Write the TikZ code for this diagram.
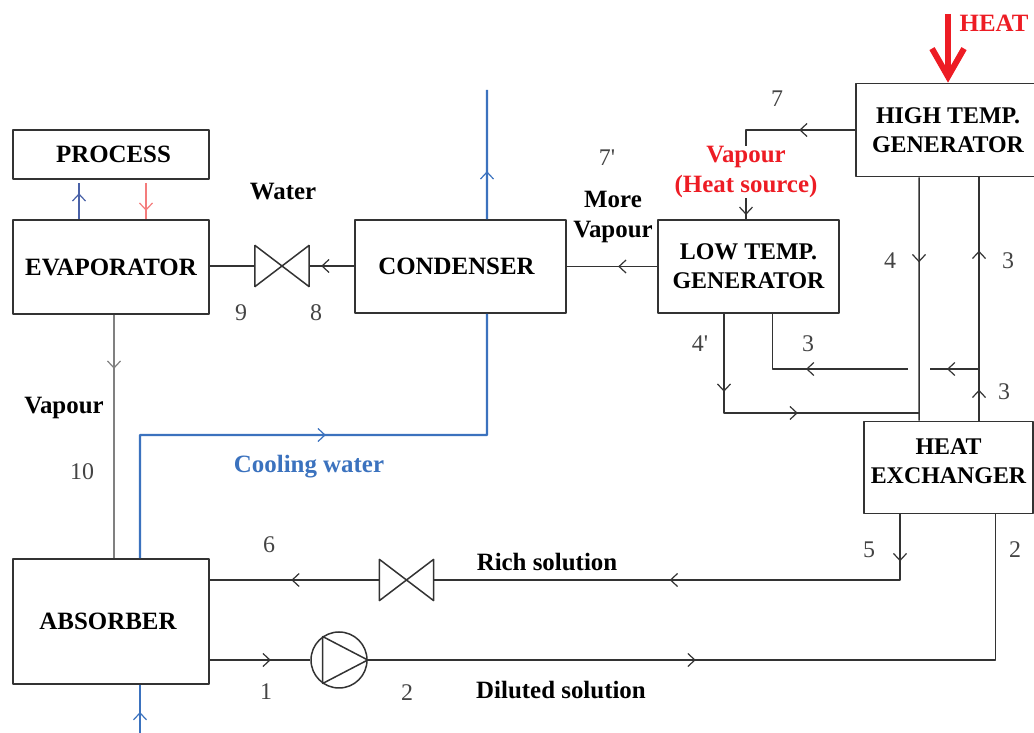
\documentclass[tikz,border=0pt]{standalone}
\usepackage{fontspec}
\setmainfont{Liberation Serif}
\usetikzlibrary{arrows.meta}
\usetikzlibrary{decorations.markings}
\definecolor{linegray}{HTML}{333333}
\definecolor{numgray}{HTML}{444444}
\definecolor{heatred}{HTML}{ED1C24}
\definecolor{coolblue}{HTML}{3B72BE}
\definecolor{procblue}{HTML}{4A62A8}
\definecolor{procred}{HTML}{F47C7C}
\tikzset{
  unitbox/.style={draw=linegray,line width=1.7bp,align=center,inner sep=0pt,font=\fontsize{25}{29.5}\selectfont\bfseries},
  twoline/.style={unitbox,font=\fontsize{24}{29.5}\selectfont\bfseries},
  lab/.style={inner sep=0pt,align=center,font=\fontsize{25}{30}\selectfont\bfseries},
  num/.style={inner sep=0pt,text=numgray,font=\fontsize{24}{28}\selectfont},
  pipe/.style={draw=linegray,line width=1.5bp},
  flow/.style={postaction={decorate,decoration={markings,mark=at position #1 with {\arrow[line width=1.2bp]{>}}}}},
  valve/.style={minimum width=54bp,minimum height=41bp,inner sep=0pt},
}
\begin{document}
\begin{tikzpicture}[>={Straight Barb[length=7bp,width=13bp]},line join=bevel]
\useasboundingbox (0bp,0bp) rectangle (1034bp,733bp);
%%
\node (node_process) at (111bp,578.5bp) [unitbox,minimum width=196bp,minimum height=49bp] {\hspace*{5bp}PROCESS};
\node (node_evaporator) at (111bp,466bp) [unitbox,minimum width=196bp,minimum height=94bp] {EVAPORATOR};
\node (node_condenser) at (460.5bp,466.5bp) [unitbox,minimum width=211bp,minimum height=93bp] {\hspace*{-8bp}CONDENSER};
\node (node_low) at (748.5bp,466.5bp) [twoline,minimum width=181bp,minimum height=93bp] {LOW TEMP.\\GENERATOR};
\node (node_high) at (948bp,603bp) [twoline,minimum width=184bp,minimum height=93bp] {HIGH TEMP.\\GENERATOR};
\node (node_exchanger) at (948.5bp,265.5bp) [twoline,minimum width=169bp,minimum height=92bp] {HEAT\\EXCHANGER\\[-17bp]\mbox{}};
\node (node_absorber) at (111bp,111.5bp) [unitbox,minimum width=196bp,minimum height=125bp] {\hspace*{-6bp}ABSORBER};
\node (node_valve_a) at (282bp,467bp) [valve] {};
\node (node_valve_b) at (406.5bp,153bp) [valve] {};
\node (node_pump) at (339bp,73bp) [circle,pipe,inner sep=0pt,minimum size=56bp] {};
\node (node_vapour) at (746bp,561bp) [lab,text=heatred] {Vapour\\(Heat source)};
%%
\coordinate (heat_in) at (948bp,719bp);
\coordinate (cw_in) at (140bp,0bp);
\coordinate (cw_bend) at (487bp,298bp);
\coordinate (cw_out) at (487bp,643bp);
\coordinate (tee_3) at (979bp,364bp);
\coordinate (gap_r) at (930bp,364bp);
\coordinate (gap_l) at (908bp,364bp);
\coordinate (tee_4) at (919bp,320bp);
%%
\foreach \v in {node_valve_a,node_valve_b}
  \draw [pipe] (\v.north west) -- (\v.south east) -- (\v.north east) -- (\v.south west) -- cycle;
\draw [pipe] (node_pump.125) -- (node_pump.235) -- (node_pump.east) -- cycle;
%%
\draw [heatred,line width=6bp,-{Straight Barb[length=28bp,width=32bp]}] (heat_in) -- (node_high.north);
\draw [procblue,line width=2bp,shorten >=3bp,flow=26bp] ([xshift=-32bp]node_evaporator.north) -- ([xshift=-32bp]node_process.south);
\draw [procred,line width=2.6bp,shorten <=3bp,flow=31bp] ([xshift=35bp]node_process.south) -- ([xshift=35bp]node_evaporator.north);
%%
\draw [pipe] (node_valve_a.west) -- (node_evaporator.east |- node_valve_a.west);
\draw [pipe,flow=33bp] (node_condenser.west |- node_valve_a.east) -- (node_valve_a.east);
\draw [pipe,flow=39bp] (node_low.west |- node_condenser.east) -- (node_condenser.east);
\draw [pipe,flow=56bp] (node_high.west) -| (node_vapour.north);
\draw [pipe,flow=17bp] (node_vapour.south) -- (node_vapour.south |- node_low.north);
%%
\draw [pipe,flow=85bp] ([xshift=-29bp]node_high.south) -- ([xshift=-29.5bp]node_exchanger.north);
\draw [pipe,flow=31bp,flow=170bp] ([xshift=30.5bp]node_exchanger.north) -- ([xshift=31bp]node_high.south);
\draw [pipe,flow=32bp] (tee_3) -- (gap_r);
\draw [pipe,flow=102bp] (gap_l) -| ([xshift=24bp]node_low.south);
\draw [pipe,flow=78bp,flow=173bp] ([xshift=-24.5bp]node_low.south) |- (tee_4);
%%
\draw [pipe,flow=47bp,flow=296bp] ([xshift=-48.5bp]node_exchanger.south) |- (node_valve_b.east);
\draw [pipe,flow=88bp] (node_valve_b.west) -- (node_absorber.east |- node_valve_b.west);
\draw [pipe,flow=61bp] (node_absorber.east |- node_pump.west) -- (node_pump.west);
\draw [pipe,flow=328bp] (node_pump.east) -| ([xshift=47bp]node_exchanger.south);
\draw [pipe,draw=gray,flow=54bp] ([xshift=3bp]node_evaporator.south) -- ([xshift=3bp]node_absorber.north);
%%
\draw [coolblue,line width=2.4bp,flow=21bp] (cw_in) -- ([xshift=29bp]node_absorber.south);
\draw [coolblue,line width=2.4bp,flow=309bp] ([xshift=29bp]node_absorber.north) |- (cw_bend) -- ([xshift=26.5bp]node_condenser.south);
\draw [coolblue,line width=2.4bp,flow=48bp] ([xshift=26.5bp]node_condenser.north) -- (cw_out);
%%
\node (lab_heat) at (994bp,710bp) [lab,text=heatred] {HEAT};
\node (lab_water) at (283bp,541bp) [lab] {Water};
\node (lab_more) at (613bp,516bp) [lab] {More\\Vapour};
\node (lab_vapour) at (64bp,325bp) [lab] {Vapour};
\node (lab_cooling) at (309bp,266bp) [lab,text=coolblue] {Cooling water};
\node (lab_rich) at (547bp,171bp) [lab] {Rich solution};
\node (lab_diluted) at (561bp,43bp) [lab] {Diluted solution};
%%
\node (num_7) at (777bp,634bp) [num] {7};
\node (num_7p) at (607bp,575bp) [num] {7\textquotesingle};
\node (num_9) at (241bp,420bp) [num] {9};
\node (num_8) at (316bp,420bp) [num] {8};
\node (num_10) at (82bp,261bp) [num] {10};
\node (num_6) at (269bp,188bp) [num] {6};
\node (num_1) at (266bp,41bp) [num] {1};
\node (num_2a) at (407bp,40bp) [num] {2};
\node (num_5) at (869bp,183bp) [num] {5};
\node (num_2b) at (1015bp,183bp) [num] {2};
\node (num_4) at (890bp,472bp) [num] {4};
\node (num_3a) at (1008bp,472bp) [num] {3};
\node (num_3b) at (808bp,389bp) [num] {3};
\node (num_4p) at (700bp,389bp) [num] {4\textquotesingle};
\node (num_3c) at (1004bp,341bp) [num] {3};
%
\end{tikzpicture}
\end{document}
